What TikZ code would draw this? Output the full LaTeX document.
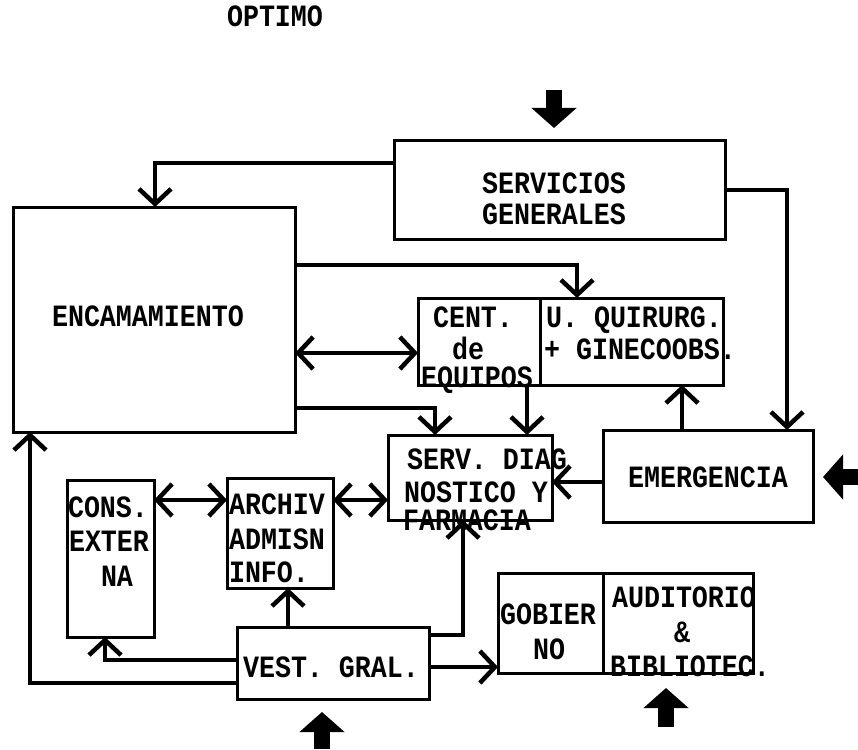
\documentclass[tikz,border=0pt]{standalone}
\usepackage{fontspec}
\setmonofont{Liberation Mono}[FakeStretch=0.86]
\usetikzlibrary{arrows.meta}
\tikzset{
  box/.style={draw, line width=3pt, inner sep=0pt, outer sep=0pt},
  txt/.style={font=\ttfamily\bfseries\fontsize{31}{34}\selectfont, inner sep=0pt, text height=18pt, text depth=0pt, anchor=center},
  conn/.style={line width=4.5pt, arrows={-Straight Barb[length=15pt,width=32pt,line width=4.5pt]}},
  conn2/.style={line width=4.5pt, arrows={Straight Barb[length=15pt,width=32pt,line width=4.5pt]-Straight Barb[length=15pt,width=32pt,line width=4.5pt]}},
  bigarrow/.style={line width=16pt, arrows={-Triangle[length=20pt,width=44pt]}}
}
\begin{document}
\begin{tikzpicture}[x=1pt,y=-1pt]
\useasboundingbox (0,0) rectangle (858,749);
% boxes
\node[box, minimum width=331pt, minimum height=99pt] (sg) at (559.5,189.5) {};
\node[box, minimum width=282pt, minimum height=225pt] (enc) at (154,319.5) {};
\node[box, minimum width=122pt, minimum height=87pt] (cent) at (479,341.5) {};
\node[box, minimum width=183pt, minimum height=87pt] (uq) at (631.5,341.5) {};
\node[box, minimum width=164pt, minimum height=85pt] (sd) at (470,477.5) {};
\node[box, minimum width=210pt, minimum height=92pt] (em) at (708,476) {};
\node[box, minimum width=87pt, minimum height=157pt] (ce) at (110.5,558.5) {};
\node[box, minimum width=106pt, minimum height=110pt] (ar) at (280,533) {};
\node[box, minimum width=192pt, minimum height=72pt] (vg) at (333,663) {};
\node[box, minimum width=105pt, minimum height=100pt] (gob) at (550.5,623) {};
\node[box, minimum width=150pt, minimum height=100pt] (aud) at (678,623) {};
% texts
\node[txt] (topt) at (275,18) {OPTIMO};
\node[txt] (tsg1) at (554,184) {SERVICIOS};
\node[txt] (tsg2) at (554,215) {GENERALES};
\node[txt] (tenc) at (148,317) {ENCAMAMIENTO};
\node[txt] (tce1) at (473,318) {CENT.};
\node[txt] (tce2) at (468,350) {de};
\node[txt] (tce3) at (477,378) {EQUIPOS};
\node[txt] (tuq1) at (634,318) {U. QUIRURG.};
\node[txt] (tuq2) at (640,350) {+ GINECOOBS.};
\node[txt] (tsd1) at (487,460) {SERV. DIAG};
\node[txt] (tsd2) at (476,493) {NOSTICO Y};
\node[txt] (tsd3) at (467,521) {FARMACIA};
\node[txt] (tem) at (708,478) {EMERGENCIA};
\node[txt] (tcx1) at (108,508) {CONS.};
\node[txt] (tcx2) at (109,542) {EXTER};
\node[txt] (tcx3) at (117,577) {NA};
\node[txt] (tar1) at (277,505) {ARCHIV};
\node[txt] (tar2) at (277,540) {ADMISN};
\node[txt] (tar3) at (269,573) {INFO.};
\node[txt] (tvg) at (331,668) {VEST. GRAL.};
\node[txt] (tgo1) at (548,615) {GOBIER};
\node[txt] (tgo2) at (549,650) {NO};
\node[txt] (tau1) at (684,598) {AUDITORIO};
\node[txt] (tau2) at (682,633) {\&};
\node[txt] (tau3) at (690,667) {BIBLIOTEC.};
% connectors
\draw[conn] (sg.west |- 0,163) -| (enc.north -| 155,0);
\draw[conn] (sg.east |- 0,190) -| (em.north -| 787,0);
\draw[conn] (enc.east |- 0,265) -| (uq.north -| 577,0);
\draw[conn2] (enc.east |- 0,353) -- (cent.west |- 0,353);
\draw[conn] (enc.east |- 0,408) -| (sd.north -| 435,0);
\draw[conn] (cent.south -| 527,0) -- (sd.north -| 527,0);
\draw[conn] (em.north -| 682,0) -- (uq.south -| 682,0);
\draw[conn] (em.west |- 0,482) -- (sd.east |- 0,482);
\draw[conn2] (ce.east |- 0,500) -- (ar.west |- 0,500);
\draw[conn2] (ar.east |- 0,500) -- (sd.west |- 0,500);
\draw[conn] (vg.north -| 288,0) -- (ar.south -| 288,0);
\draw[conn] (vg.west |- 0,660) -| (ce.south -| 105,0);
\draw[conn] (vg.west |- 0,683) -| (enc.south -| 30,0);
\draw[conn] (vg.east |- 0,635) -| (sd.south -| 463,0);
\draw[conn] (vg.east |- 0,667) -- (gob.west |- 0,667);
% big input arrows
\coordinate (in1) at (554,90);
\coordinate (in2) at (858,477);
\coordinate (in3) at (322,749);
\coordinate (in4) at (666,727);
\draw[bigarrow, shorten >=12pt] (in1) -- (sg.north -| in1);
\draw[bigarrow, shorten >=10pt] (in2) -- (em.east |- in2);
\draw[bigarrow, shorten >=13pt] (in3) -- (vg.south -| in3);
\draw[bigarrow, shorten >=15pt] (in4) -- (aud.south -| in4);
\end{tikzpicture}
\end{document}
